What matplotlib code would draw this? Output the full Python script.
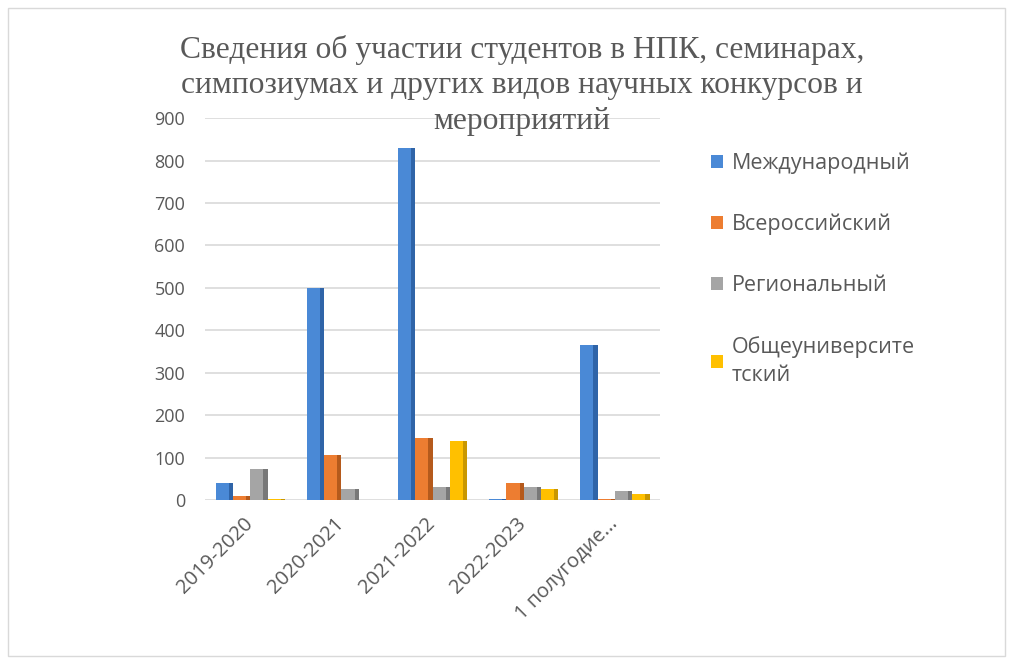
import numpy as np
import matplotlib
matplotlib.use("Agg")
import matplotlib.pyplot as plt
from matplotlib.patches import Rectangle

categories = ["2019-2020", "2020-2021", "2021-2022", "2022-2023", "1 полугодие..."]
series_names = ["Международный", "Всероссийский", "Региональный", "Общеуниверсите\nтский"]
mezhdunarodny = [40, 500, 830, 3, 365]
vserossiysky = [10, 105, 145, 40, 3]
regionalny = [72, 25, 30, 30, 22]
obscheuniver = [3, 0, 140, 25, 15]
colors = ["#4a89d6", "#ed7d31", "#a5a5a5", "#ffc000"]
side_colors = ["#2f64a8", "#b55a1c", "#787878", "#c99700"]

title_lines = ["Сведения об участии студентов в НПК, семинарах,",
               "симпозиумах и других видов научных конкурсов и",
               "мероприятий"]

fig = plt.figure(figsize=(10.13, 6.64), dpi=100)
fig.patches.append(Rectangle((0.008, 0.012), 0.984, 0.976, transform=fig.transFigure,
                             fill=False, edgecolor="#d9d9d9", linewidth=1))

ax = fig.add_axes([0.202, 0.247, 0.450, 0.575])
values = [mezhdunarodny, vserossiysky, regionalny, obscheuniver]
x = np.arange(len(categories))
w = 0.19
front = 0.145
for i, vals in enumerate(values):
    left = x + (i - 2) * w
    ax.bar(left, vals, width=front, align="edge", color=colors[i],
           label=series_names[i], zorder=3)
    # darker right face for the 3D look
    ax.bar(left + front, vals, width=w - front, align="edge", color=side_colors[i], zorder=3)

ax.set_xlim(-0.5, len(categories) - 0.5)
ax.set_ylim(0, 900)
ax.set_yticks(range(0, 901, 100))
ax.grid(axis="y", color="#d9d9d9", linewidth=1.2, zorder=0)
for s in ax.spines.values():
    s.set_visible(False)
ax.tick_params(axis="both", length=0, colors="#595959", labelsize=13, pad=14)
ax.set_xticks(x - 0.08)
ax.set_xticklabels(categories, rotation=45, ha="right", va="top", rotation_mode="anchor",
                   fontsize=14.5, family="Open Sans")
ax.tick_params(axis="x", pad=10)
for lab in ax.get_yticklabels():
    lab.set_family("Open Sans")

# title as three lines so each sits on its own
for k, line in enumerate(title_lines):
    fig.text(0.515, 0.925 - k * 0.054, line, ha="center", va="center", fontsize=22.7,
             family="Liberation Serif", color="#595959")

leg = fig.legend(loc="upper left", bbox_to_anchor=(0.683, 0.80), frameon=False,
                 labelspacing=1.85, handlelength=0.55, handleheight=0.55,
                 handletextpad=0.4, prop={"family": "Open Sans", "size": 15.5})
for t in leg.get_texts():
    t.set_color("#595959")
    t.set_linespacing(1.45)

fig.savefig("out.png", dpi=100, facecolor="white")
